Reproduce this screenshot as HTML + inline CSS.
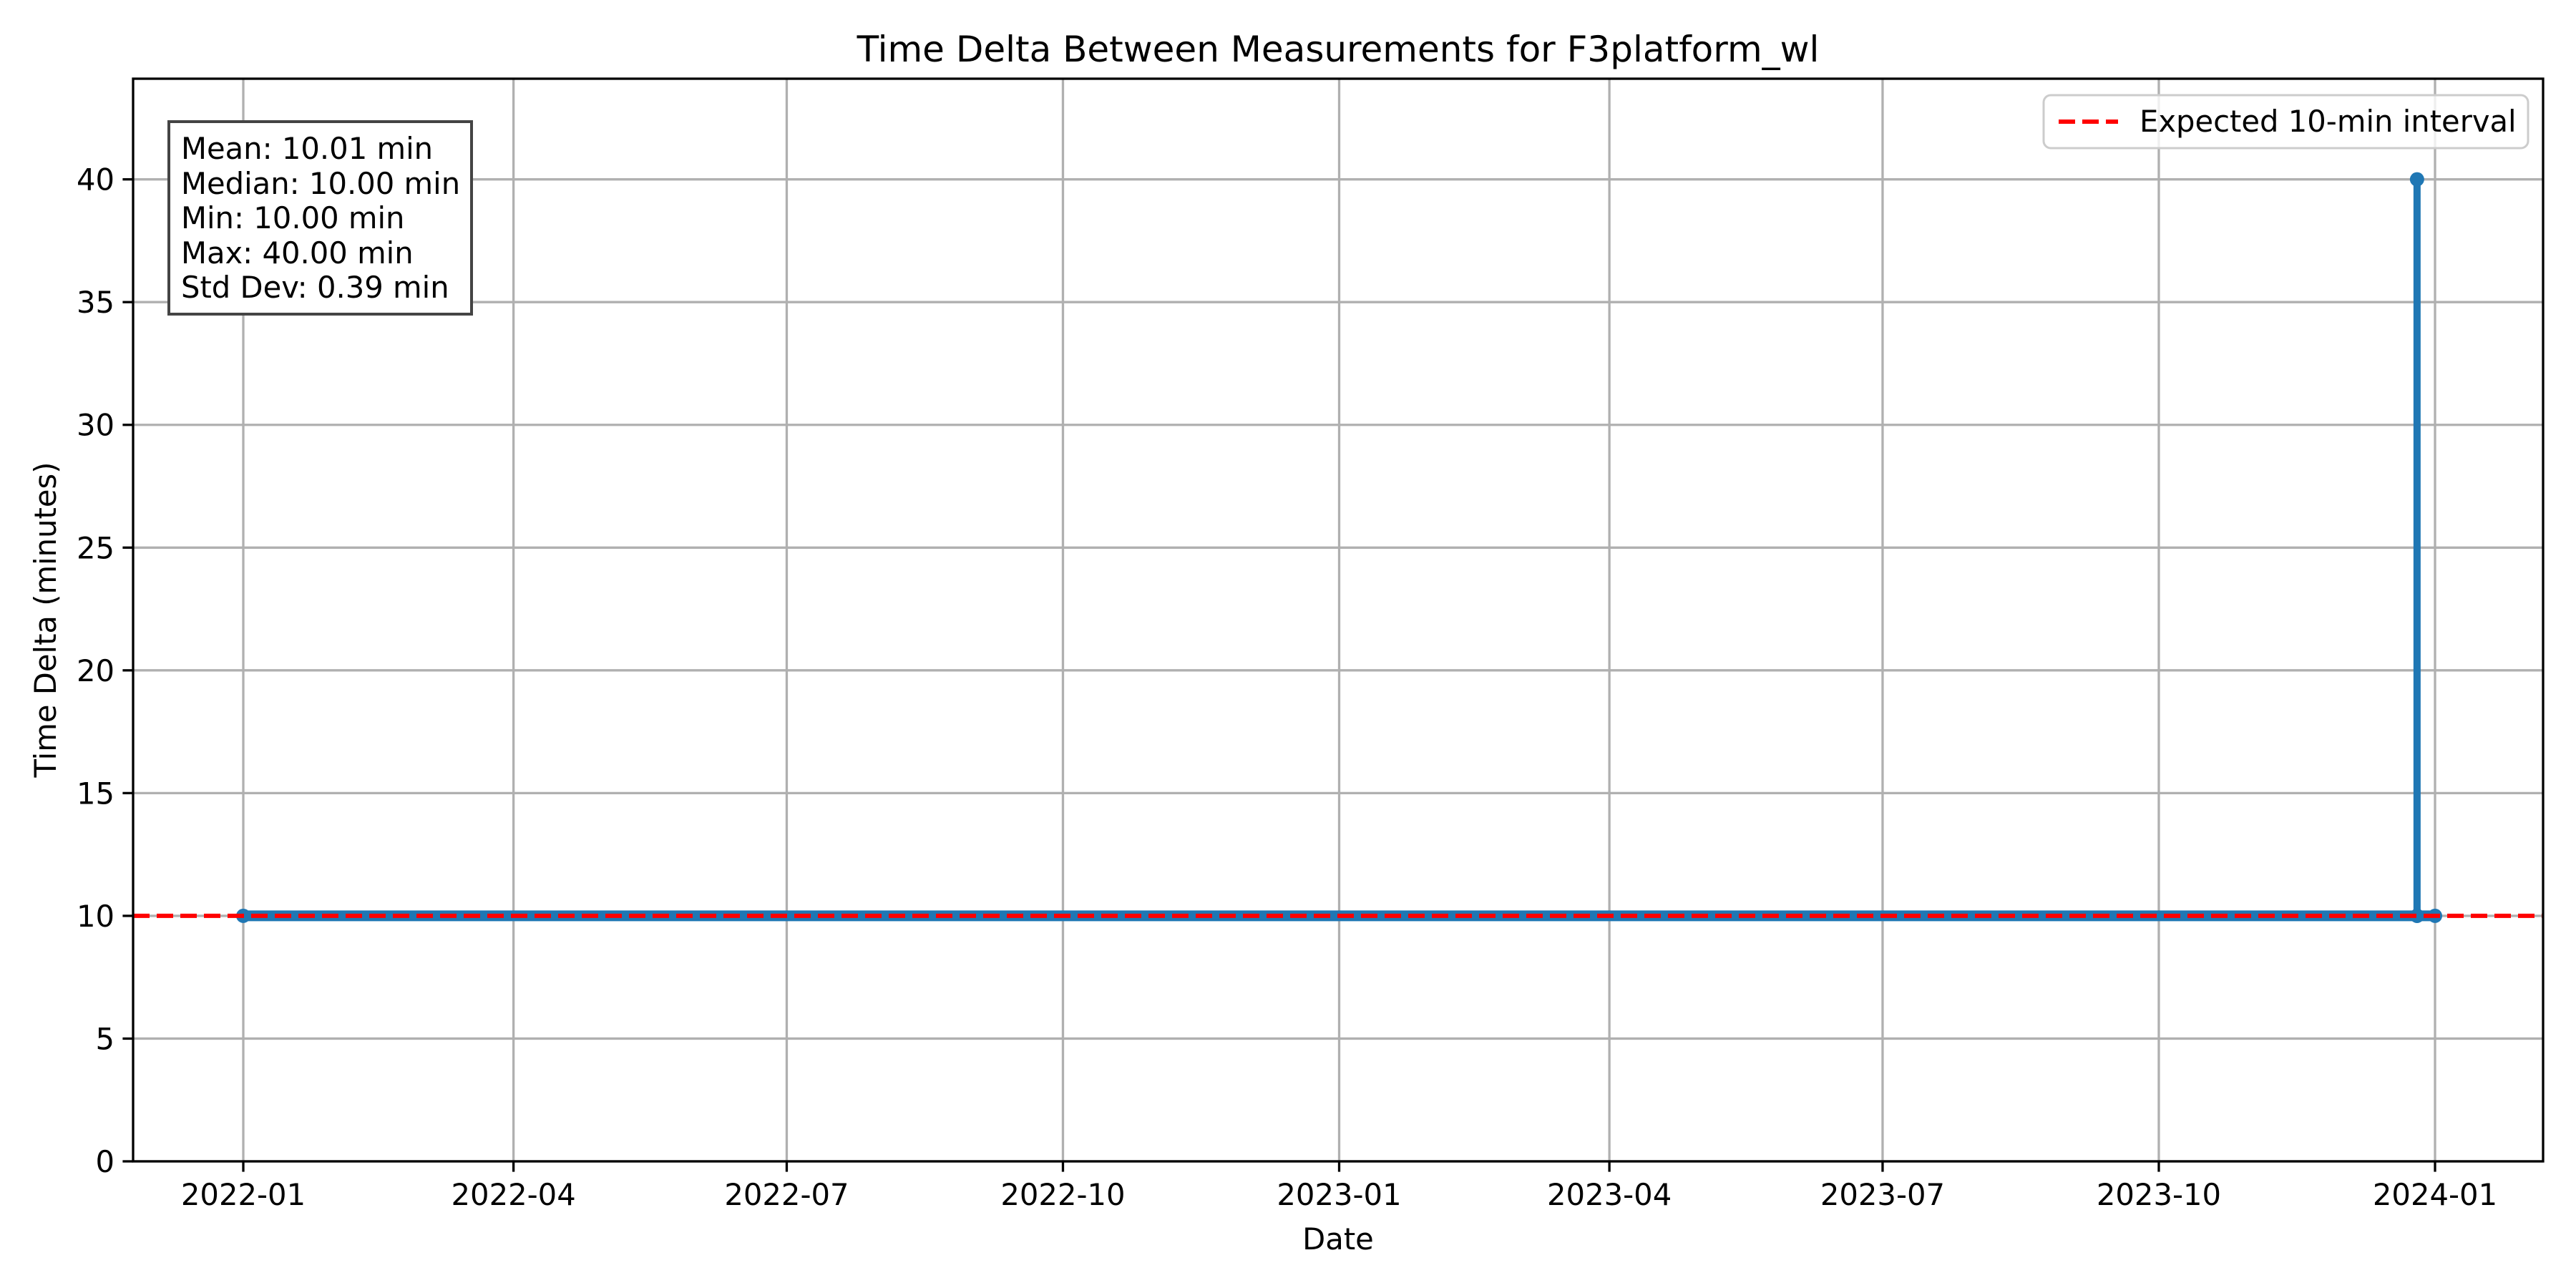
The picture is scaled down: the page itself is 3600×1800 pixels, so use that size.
<!DOCTYPE html>
<html><head><meta charset="utf-8"><style>
html,body{margin:0;padding:0;background:#fff;}
svg{display:block;font-family:"DejaVu Sans","Liberation Sans",sans-serif;}
</style></head><body>
<svg id="chart" width="3600" height="1800" viewBox="0 0 3600 1800" xmlns="http://www.w3.org/2000/svg">
<rect width="3600" height="1800" fill="#fff"/>
<g id="grid"></g><g id="series"></g><g id="axes"></g>
<text x="1870" y="86" font-size="50" text-anchor="middle">Time Delta Between Measurements for F3platform_wl</text>
<text x="1870" y="1746" font-size="41.7" text-anchor="middle">Date</text>
<text transform="translate(78,866) rotate(-90)" font-size="41.7" text-anchor="middle">Time Delta (minutes)</text>
<g>
<rect x="236" y="170" width="423" height="269" fill="#fff" stroke="#444" stroke-width="4"/>
<text x="253" y="222" font-size="41.7">Mean: 10.01 min</text>
<text x="253" y="271" font-size="41.7">Median: 10.00 min</text>
<text x="253" y="319" font-size="41.7">Min: 10.00 min</text>
<text x="253" y="368" font-size="41.7">Max: 40.00 min</text>
<text x="253" y="416" font-size="41.7">Std Dev: 0.39 min</text>
</g>
<g>
<rect x="2856" y="133" width="677" height="74" rx="10" fill="#fff" fill-opacity="0.8" stroke="#ccc" stroke-width="3"/>
<line x1="2877" y1="170" x2="2960" y2="170" stroke="#f00" stroke-width="6" stroke-dasharray="23,10"/>
<text x="2990" y="184" font-size="41.7">Expected 10-min interval</text>
</g>
</svg>
<script>
const tickDates = ['2022-01-01','2022-04-01','2022-07-01','2022-10-01','2023-01-01','2023-04-01','2023-07-01','2023-10-01','2024-01-01'];
const tickLabels = ['2022-01','2022-04','2022-07','2022-10','2023-01','2023-04','2023-07','2023-10','2024-01'];
const yTicks = [0,5,10,15,20,25,30,35,40];
const seriesDates = ['2022-01-01T00:00','2023-12-26T00:00','2023-12-26T00:10','2023-12-26T00:20','2024-01-01T00:00'];
const seriesValues = [10,10,40,10,10];
const expectedValue = 10;

const L=186,R=3554,T=110,B=1623;
const d0=Date.parse('2022-01-01T00:00:00Z'), d1=Date.parse('2024-01-01T00:00:00Z');
const x0=340,x1=3403;
function xs(d){const t=Date.parse(d.length===10?d+'T00:00:00Z':d+':00Z');return x0+(t-d0)/(d1-d0)*(x1-x0);}
const yMax=44.1;
function ys(v){return B-v/yMax*(B-T);}
const NS='http://www.w3.org/2000/svg';
function mk(tag,attrs,parent){const e=document.createElementNS(NS,tag);for(const k in attrs)e.setAttribute(k,attrs[k]);parent.appendChild(e);return e;}
const grid=document.getElementById('grid'),axes=document.getElementById('axes'),ser=document.getElementById('series');
tickDates.forEach((d,i)=>{const x=xs(d);
 const g=mk('line',{x1:x,x2:x,y1:T,y2:B,stroke:'#b0b0b0','stroke-width':3.3},grid);
 
 
 const t=mk('line',{x1:x,x2:x,y1:B,y2:B+14.6,stroke:'#000','stroke-width':3.3},axes);
 
 
 const l=mk('text',{x:x,y:B+61,'font-size':41.7,'text-anchor':'middle'},axes);l.textContent=tickLabels[i];
 
 
});
yTicks.forEach(v=>{const y=ys(v);
 const g=mk('line',{x1:L,x2:R,y1:y,y2:y,stroke:'#b0b0b0','stroke-width':3.3},grid);
 
 
 const t=mk('line',{x1:L-14.6,x2:L,y1:y,y2:y,stroke:'#000','stroke-width':3.3},axes);
 
 
 const l=mk('text',{x:L-26,y:y+15,'font-size':41.7,'text-anchor':'end'},axes);l.textContent=v;
 
 
});
// dense marker band for horizontal segments (visual), then line
for(let i=0;i<seriesDates.length-1;i++){
 if(seriesValues[i]===seriesValues[i+1]){
  const b=mk('line',{x1:xs(seriesDates[i]),x2:xs(seriesDates[i+1]),y1:ys(seriesValues[i]),y2:ys(seriesValues[i+1]),stroke:'#1f77b4','stroke-width':15,'stroke-linecap':'round'},ser);
  
  
 }
}
const pts=seriesDates.map((d,i)=>xs(d)+','+ys(seriesValues[i])).join(' ');
const pl=mk('polyline',{points:pts,fill:'none',stroke:'#1f77b4','stroke-width':10,'stroke-linejoin':'round','stroke-linecap':'round'},ser);


seriesDates.forEach((d,i)=>{const c=mk('circle',{cx:xs(d),cy:ys(seriesValues[i]),r:10,fill:'#1f77b4'},ser);
 
 
});
const ref=mk('line',{x1:L,x2:R,y1:ys(expectedValue),y2:ys(expectedValue),stroke:'#f00','stroke-width':6,'stroke-dasharray':'23,10'},ser);


const fr=mk('rect',{x:L,y:T,width:R-L,height:B-T,fill:'none',stroke:'#000','stroke-width':3.3},axes);


</script>
</body></html>
